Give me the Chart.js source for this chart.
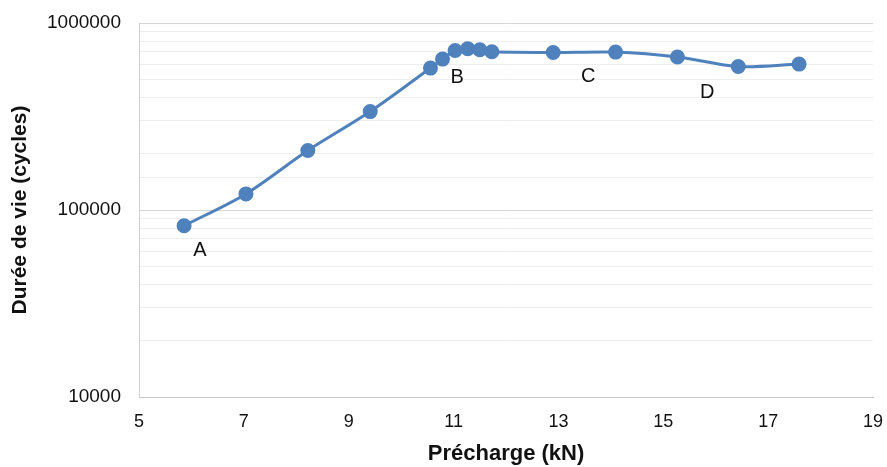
<!DOCTYPE html>
<html>
<head>
<meta charset="utf-8">
<script src="https://cdn.jsdelivr.net/npm/chart.js@4"></script>
<style>
  html, body { margin: 0; padding: 0; background: #fff; }
  #wrap { width: 887px; height: 467px; }
</style>
</head>
<body>
<div id="wrap"><canvas id="chartPrecharge"></canvas></div>
<script>
const precharge = [5.86, 7.04, 8.22, 9.41, 10.56, 10.79, 11.03, 11.27, 11.5, 11.73, 12.9, 14.09, 15.27, 16.43, 17.59];
const dureeVie = [82400, 121900, 208000, 336000, 574000, 641000, 713000, 729000, 719000, 702000, 696000, 699000, 658000, 585000, 603000];
const zoneLabels = ['A', 'B', 'C', 'D'];
const zoneX = [6.16, 11.07, 13.57, 15.84];
const zoneY = [61100, 509000, 515000, 424000];
const xTicks = [5, 7, 9, 11, 13, 15, 17, 19];
const yTickLabels = [10000, 100000, 1000000];

const fontFamily = '"Liberation Sans", Arial, sans-serif';
const textColor = '#111';

const zoneText = {
    id: 'zoneText',
    afterDatasetsDraw(chart) {
        const { ctx, scales } = chart;
        ctx.save();
        ctx.font = `20px ${fontFamily}`;
        ctx.fillStyle = textColor;
        ctx.textAlign = 'center';
        ctx.textBaseline = 'middle';
        zoneLabels.forEach((label, i) => {
            ctx.fillText(label, scales.x.getPixelForValue(zoneX[i]), scales.y.getPixelForValue(zoneY[i]));
        });
        ctx.restore();
    },
};

const isMajor = (v) => yTickLabels.includes(v);

new Chart(document.getElementById('chartPrecharge'), {
    type: 'line',
    data: {
        datasets: [{
            data: precharge.map((x, i) => ({ x, y: dureeVie[i] })),
            borderColor: '#4f81bd',
            backgroundColor: '#4f81bd',
            pointBackgroundColor: '#4f81bd',
            pointBorderColor: '#4f81bd',
            borderWidth: 3,
            pointRadius: 6,
            tension: 0.3,
            fill: false,
        }],
    },
    plugins: [zoneText],
    options: {
        responsive: true,
        maintainAspectRatio: false,
        animation: false,
        layout: { padding: { top: 23, right: 14, left: 0, bottom: 0 } },
        plugins: {
            legend: { display: false },
            tooltip: { enabled: false },
        },
        scales: {
            x: {
                type: 'linear',
                min: 5,
                max: 19,
                afterBuildTicks: (scale) => { scale.ticks = xTicks.map((value) => ({ value })); },
                ticks: {
                    color: textColor,
                    font: { family: fontFamily, size: 18 },
                    padding: 14,
                    maxRotation: 0,
                },
                grid: { display: false, drawTicks: false },
                border: { display: true, color: '#c8c8c8', width: 1 },
                title: {
                    display: true,
                    text: 'Précharge (kN)',
                    color: textColor,
                    font: { family: fontFamily, size: 22, weight: 'bold' },
                    padding: { top: 2, bottom: 0 },
                },
                afterFit: (scale) => {
                    scale.height = 70;
                    scale.paddingLeft = 0;
                    scale.paddingRight = 0;
                },
            },
            y: {
                type: 'logarithmic',
                min: 10000,
                max: 1000000,
                ticks: {
                    color: textColor,
                    font: { family: fontFamily, size: 19 },
                    padding: 18,
                    autoSkip: false,
                    callback: (value) => (isMajor(value) ? String(value) : ''),
                },
                grid: {
                    drawTicks: false,
                    color: (ctx) => (isMajor(ctx.tick?.value) ? '#d6d6d6' : '#eeeeee'),
                },
                border: { display: true, color: '#d0d0d0', width: 1 },
                title: {
                    display: true,
                    text: 'Durée de vie (cycles)',
                    color: textColor,
                    font: { family: fontFamily, size: 21, weight: 'bold' },
                    padding: { top: 8, bottom: 0 },
                },
                afterFit: (scale) => {
                    scale.width = 139;
                    scale.paddingTop = 0;
                    scale.paddingBottom = 0;
                },
            },
        },
    },
});
</script>
</body>
</html>
